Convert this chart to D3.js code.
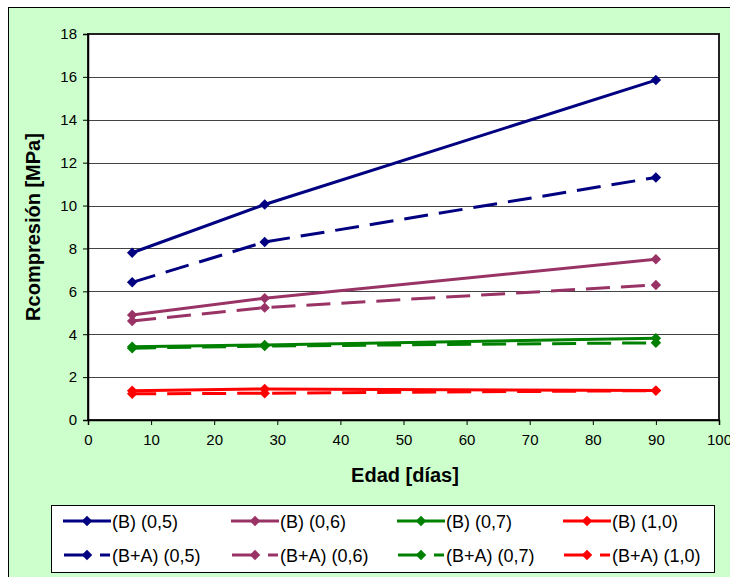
<!DOCTYPE html>
<html>
<head>
<meta charset="utf-8">
<script src="https://cdn.jsdelivr.net/npm/d3@7"></script>
<style>
  html, body { margin: 0; padding: 0; background: #ffffff; }
  svg { display: block; font-family: "Liberation Sans", Arial, sans-serif; }
</style>
</head>
<body>
<svg id="chart" width="730" height="577"></svg>
<script>
// Curing age in days
const ages = [7, 28, 90];

// Compressive strength [MPa] per mix
const b05  = [7.8, 10.05, 15.85];
const b06  = [4.9, 5.68, 7.5];
const b07  = [3.42, 3.5, 3.81];
const b10  = [1.36, 1.45, 1.37];
const ba05 = [6.42, 8.3, 11.31];
const ba06 = [4.62, 5.24, 6.3];
const ba07 = [3.35, 3.45, 3.6];
const ba10 = [1.22, 1.25, 1.37];

const seriesNames = ["(B) (0,5)", "(B) (0,6)", "(B) (0,7)", "(B) (1,0)",
                     "(B+A) (0,5)", "(B+A) (0,6)", "(B+A) (0,7)", "(B+A) (1,0)"];
const seriesValues = [b05, b06, b07, b10, ba05, ba06, ba07, ba10];
const seriesColors = ["#000080", "#993366", "#008000", "#ff0000",
                      "#000080", "#993366", "#008000", "#ff0000"];
const seriesDashed = [false, false, false, false, true, true, true, true];

const xTicks = [0, 10, 20, 30, 40, 50, 60, 70, 80, 90, 100];
const yTicks = [0, 2, 4, 6, 8, 10, 12, 14, 16, 18];

const svg = d3.select("#chart");

// chart area background
svg.append("rect")
  .attr("x", 8.5).attr("y", 7.5)
  .attr("width", 740).attr("height", 600)
  .attr("fill", "#ccffcc")
  .attr("stroke", "#000").attr("stroke-width", 1);

const plot = { left: 88, top: 34, right: 719, bottom: 420 };

const x = d3.scaleLinear().domain([0, 100]).range([plot.left, plot.right]);
const y = d3.scaleLinear().domain([0, 18]).range([plot.bottom, plot.top]);

svg.append("rect")
  .attr("x", plot.left).attr("y", plot.top)
  .attr("width", plot.right - plot.left).attr("height", plot.bottom - plot.top)
  .attr("fill", "#fff");

// horizontal gridlines
svg.append("g")
  .selectAll("line")
  .data(yTicks.filter(d => d > 0 && d < 18))
  .join("line")
  .attr("x1", plot.left).attr("x2", plot.right)
  .attr("y1", d => Math.round(y(d)) + 0.5).attr("y2", d => Math.round(y(d)) + 0.5)
  .attr("stroke", "#444").attr("stroke-width", 1);

// plot border
svg.append("rect")
  .attr("x", plot.left).attr("y", plot.top)
  .attr("width", plot.right - plot.left).attr("height", plot.bottom - plot.top)
  .attr("fill", "none").attr("stroke", "#222").attr("stroke-width", 2);

// axes
const yAxis = svg.append("g")
  .attr("transform", `translate(${plot.left},0)`)
  .call(d3.axisLeft(y).tickValues(yTicks).tickSize(5).tickPadding(6).tickFormat(d3.format("d")));
const xAxis = svg.append("g")
  .attr("transform", `translate(0,${plot.bottom})`)
  .call(d3.axisBottom(x).tickValues(xTicks).tickSize(5).tickPadding(9).tickFormat(d3.format("d")));

[yAxis, xAxis].forEach(g => {
  g.select(".domain").attr("stroke", "#000").attr("stroke-width", 1.5);
  g.selectAll(".tick line").attr("stroke", "#000");
  g.selectAll(".tick text")
    .attr("fill", "#000")
    .style("font-family", "'Liberation Sans', Arial, sans-serif")
    .style("font-size", "15px");
});

// axis titles
svg.append("text")
  .attr("x", 405).attr("y", 482)
  .attr("text-anchor", "middle")
  .style("font-size", "20px").style("font-weight", "bold")
  .text("Edad [días]");

svg.append("text")
  .attr("transform", `translate(40,${(plot.top + plot.bottom) / 2}) rotate(-90)`)
  .attr("text-anchor", "middle")
  .style("font-size", "20px").style("font-weight", "bold")
  .text("Rcompresión [MPa]");

// diamond marker
const diamond = d3.symbol().type(d3.symbolDiamond2).size(70);

const line = d3.line().x((d, i) => x(ages[i])).y(d => y(d));

// series
seriesValues.forEach((vals, k) => {
  const g = svg.append("g");
  g.append("path")
    .datum(vals)
    .attr("d", line)
    .attr("fill", "none")
    .attr("stroke", seriesColors[k])
    .attr("stroke-width", 3)
    .attr("stroke-dasharray", seriesDashed[k] ? "24,11" : null);
  g.selectAll("path.m")
    .data(vals)
    .join("path")
    .attr("class", "m")
    .attr("d", diamond)
    .attr("transform", (d, i) => `translate(${x(ages[i])},${y(d)})`)
    .attr("fill", seriesColors[k]);
});

// legend
const legend = svg.append("g");
legend.append("rect")
  .attr("x", 51.5).attr("y", 505.5)
  .attr("width", 663).attr("height", 67)
  .attr("fill", "#fff").attr("stroke", "#000").attr("stroke-width", 1);

const colX = [63, 231, 397, 563];
const rowY = [521, 555];
seriesNames.forEach((name, k) => {
  const cx = colX[k % 4], cy = rowY[Math.floor(k / 4)];
  const item = legend.append("g");
  if (seriesDashed[k]) {
    item.append("line").attr("x1", cx + 1).attr("x2", cx + 24).attr("y1", cy).attr("y2", cy)
      .attr("stroke", seriesColors[k]).attr("stroke-width", 3);
    item.append("line").attr("x1", cx + 37).attr("x2", cx + 47).attr("y1", cy).attr("y2", cy)
      .attr("stroke", seriesColors[k]).attr("stroke-width", 3);
  } else {
    item.append("line").attr("x1", cx).attr("x2", cx + 48).attr("y1", cy).attr("y2", cy)
      .attr("stroke", seriesColors[k]).attr("stroke-width", 3);
  }
  item.append("path").attr("d", diamond)
    .attr("transform", `translate(${cx + 24},${cy})`)
    .attr("fill", seriesColors[k]);
  item.append("text")
    .attr("x", cx + 49).attr("y", cy + 6.5)
    .style("font-size", "18px")
    .text(name);
});
</script>
</body>
</html>
